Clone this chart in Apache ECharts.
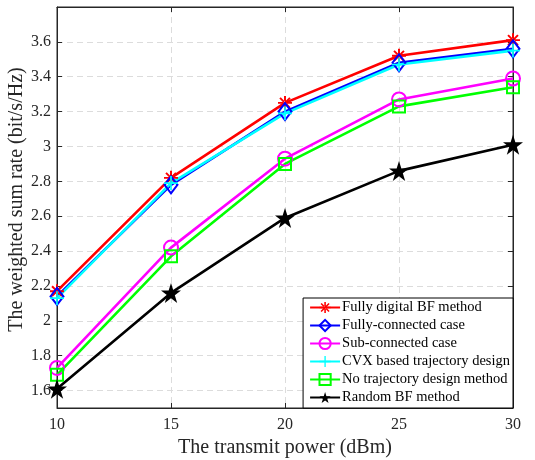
<!DOCTYPE html>
<html>
<head>
<meta charset="utf-8">
<script src="https://cdn.jsdelivr.net/npm/echarts@6/dist/echarts.min.js"></script>
<style>
  html, body { margin: 0; padding: 0; background: #fff; }
  #main { width: 535px; height: 460px; }
</style>
</head>
<body>
<div id="main"></div>
<script>
// transmit power (dBm)
const powers = [10, 15, 20, 25, 30];
const yTicks = [1.6, 1.8, 2.0, 2.2, 2.4, 2.6, 2.8, 3.0, 3.2, 3.4, 3.6];

const fullyDigital = [2.17, 2.82, 3.25, 3.52, 3.61];
const fullyConnected = [2.14, 2.78, 3.20, 3.48, 3.56];
const subConnected = [1.73, 2.42, 2.93, 3.27, 3.39];
const cvxTrajectory = [2.13, 2.79, 3.19, 3.47, 3.55];
const noTrajectory = [1.69, 2.37, 2.90, 3.23, 3.34];
const randomBF = [1.61, 2.16, 2.59, 2.86, 3.01];

const font = 'Liberation Serif';
const textColor = '#262626';

const asterisk = 'path://M-1.4,-10L1.4,-10L1.4,10L-1.4,10Z M-10,-1.4L10,-1.4L10,1.4L-10,1.4Z M6.1,8.1L8.1,6.1L-6.1,-8.1L-8.1,-6.1Z M-6.1,8.1L-8.1,6.1L6.1,-8.1L8.1,-6.1Z';
const plus = 'path://M-1.2,-10L1.2,-10L1.2,10L-1.2,10Z M-10,-1.2L10,-1.2L10,1.2L-10,1.2Z';
const star = 'path://M0,-100L22.45,-30.9L95.1,-30.9L36.3,11.8L58.8,80.9L0,38.2L-58.8,80.9L-36.3,11.8L-95.1,-30.9L-22.45,-30.9Z';

function pairs(vals) {
  return powers.map((p, i) => [p, vals[i]]);
}

function mkSeries(name, vals, color, symbol, size, hollow) {
  return {
    name: name,
    type: 'line',
    data: pairs(vals),
    symbol: symbol,
    symbolSize: size,
    color: color,
    lineStyle: { color: color, width: 2.6 },
    itemStyle: hollow
      ? { color: 'rgba(255,255,255,0)', borderColor: color, borderWidth: 2 }
      : { color: color, borderWidth: 0 },
    animation: false,
    z: 3
  };
}

const chart = echarts.init(document.getElementById('main'));
chart.setOption({
  backgroundColor: '#fff',
  grid: { left: 57, right: 22, top: 7, bottom: 52, show: true, borderColor: textColor, borderWidth: 1,
    outerBoundsMode: 'none', containLabel: false },
  xAxis: [{
    type: 'value', min: 10, max: 30, interval: 5,
    name: 'The transmit power (dBm)', nameLocation: 'middle', nameGap: 30,
    nameTextStyle: { fontFamily: font, fontSize: 20, color: textColor },
    axisLine: { show: true, lineStyle: { color: textColor } },
    axisTick: { inside: true, length: 5, lineStyle: { color: textColor } },
    axisLabel: { fontFamily: font, fontSize: 16, color: textColor, margin: 9 },
    splitLine: { show: true, lineStyle: { color: '#dcdcdc', type: [6, 4] } }
  }, {
    type: 'value', min: 10, max: 30, interval: 5, position: 'top',
    axisLine: { show: true, lineStyle: { color: textColor } },
    axisTick: { inside: true, length: 5, lineStyle: { color: textColor } },
    axisLabel: { show: false }, splitLine: { show: false }
  }],
  yAxis: [{
    type: 'value', min: 1.5, max: 3.8,
    name: 'The weighted sum rate (bit/s/Hz)', nameLocation: 'middle', nameGap: 30,
    nameMoveOverlap: false,
    nameTextStyle: { fontFamily: font, fontSize: 20, color: textColor, padding: [0, 0, 0, 16] },
    axisLine: { show: true, lineStyle: { color: textColor } },
    axisTick: { inside: true, length: 5, lineStyle: { color: textColor }, customValues: yTicks },
    axisLabel: { fontFamily: font, fontSize: 16, color: textColor, margin: 6, customValues: yTicks,
      formatter: v => (Math.abs(v - Math.round(v)) < 1e-6 ? String(Math.round(v)) : v.toFixed(1)) },
    splitLine: { show: true, lineStyle: { color: '#dcdcdc', type: [6, 4] } }
  }, {
    type: 'value', min: 1.5, max: 3.8, position: 'right',
    axisLine: { show: true, lineStyle: { color: textColor } },
    axisTick: { inside: true, length: 5, lineStyle: { color: textColor }, customValues: yTicks },
    axisLabel: { show: false }, splitLine: { show: false }
  }],
  legend: {
    orient: 'vertical', right: 22, bottom: 52,
    backgroundColor: '#fff', borderColor: '#000', borderWidth: 1,
    padding: [2, 3, 3, 6], itemGap: 3, itemWidth: 30, itemHeight: 14,
    textStyle: { fontFamily: font, fontSize: 14.5, color: '#000', padding: [0, 0, 0, -3] },
    data: ['Fully digital BF method', 'Fully-connected case', 'Sub-connected case',
      'CVX based trajectory design', 'No trajectory design method', 'Random BF method']
  },
  series: [
    mkSeries('Fully digital BF method', fullyDigital, '#ff0000', asterisk, 14, false),
    mkSeries('Fully-connected case', fullyConnected, '#0000ff', 'diamond', [13, 17], true),
    mkSeries('Sub-connected case', subConnected, '#ff00ff', 'circle', 14, true),
    mkSeries('CVX based trajectory design', cvxTrajectory, '#00ffff', plus, 14, false),
    mkSeries('No trajectory design method', noTrajectory, '#00ff00', 'rect', 12, true),
    mkSeries('Random BF method', randomBF, '#000000', star, 20, false)
  ]
});
</script>
</body>
</html>
